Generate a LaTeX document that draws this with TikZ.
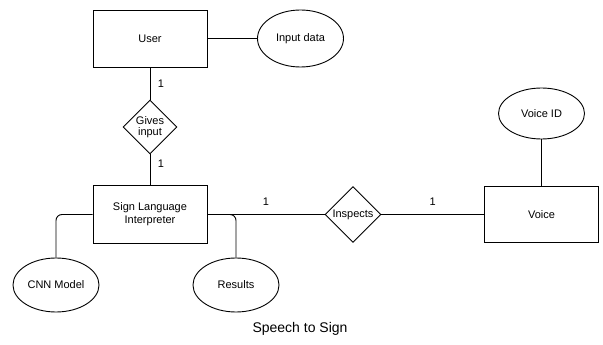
\documentclass[tikz,border=0pt]{standalone}
\usepackage{fontspec}
\setmainfont{Liberation Sans}
\usetikzlibrary{shapes.geometric}

\begin{document}
\begin{tikzpicture}[x=1pt, y=-1pt,
	entity/.style={draw, minimum width=114pt, minimum height=57pt, align=center, font=\fontsize{11}{13}\selectfont},
	attrib/.style={draw, ellipse, minimum width=86pt, minimum height=54pt, inner sep=0pt, font=\fontsize{11}{13}\selectfont},
	relation/.style={draw, diamond, aspect=1, inner sep=0pt, minimum width=54pt, minimum height=54pt, align=center, font=\fontsize{11}{13}\selectfont},
	card/.style={font=\fontsize{11}{13}\selectfont},
	every path/.style={line width=0.9pt}]
	\useasboundingbox (0,0) rectangle (603,345);
	\node[entity] (user) at (150,38.5) {User};
	\node[attrib, minimum height=57pt] (indata) at (300.5,38.5) {Input data};
	\node[relation] (gives) at (150,127) {Gives\\[-2pt]input};
	\node[entity, minimum height=58pt] (sli) at (150,214.5) {Sign Language\\Interpreter};
	\node[attrib] (cnn) at (56,285) {CNN Model};
	\node[attrib] (results) at (236,285) {Results};
	\node[relation, minimum width=56pt, minimum height=56pt] (inspects) at (353,214.5) {Inspects};
	\node[entity, minimum height=56pt] (voice) at (541.5,214.5) {Voice};
	\node[attrib, minimum height=51pt] (voiceid) at (541.5,113.5) {Voice ID};
	\node[font=\fontsize{14}{16}\selectfont] (title) at (300,329) {Speech to Sign};

	\draw (user) -- (indata);
	\draw (user) -- node[card, right=4pt]{1} (gives);
	\draw (gives) -- node[card, right=4pt, pos=0.3]{1} (sli);
	\draw (sli) -- node[card, above=5pt]{1} (inspects);
	\draw (inspects) -- node[card, above=5pt]{1} (voice);
	\draw (voiceid) -- (voice);
	\draw[rounded corners=6pt] (sli.west) -| (cnn.north);
	\draw[rounded corners=6pt] (sli.east) -| (results.north);
\end{tikzpicture}
\end{document}
